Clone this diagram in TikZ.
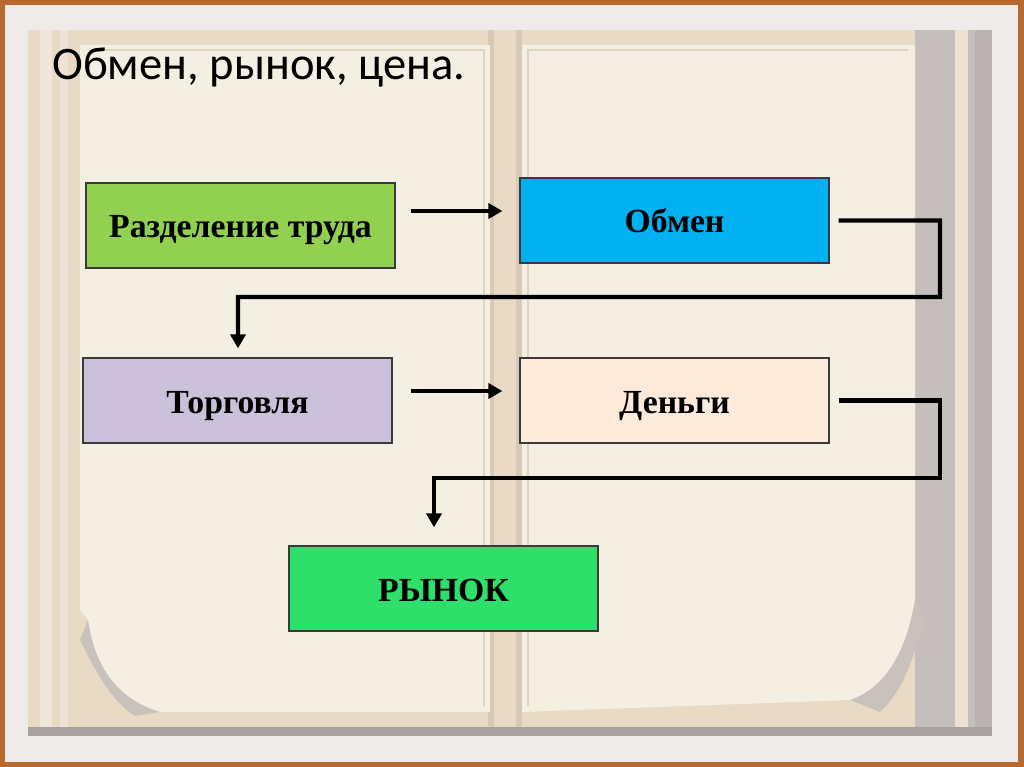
\documentclass[tikz,border=0pt]{standalone}
\usepackage{fontspec}
\setmainfont{Liberation Serif}
\newfontfamily\titlefont{Carlito}
\usetikzlibrary{arrows.meta,calc}
\definecolor{framebrown}{HTML}{B8692E}
\definecolor{band}{HTML}{EEEBEA}
\definecolor{bookbase}{HTML}{E9DAC6}
\definecolor{pagecol}{HTML}{F3EFE2}
\definecolor{pageline}{HTML}{DDD3BF}
\definecolor{shadowgray}{HTML}{C4BFBC}
\definecolor{curlgray}{HTML}{C9C2BC}
\definecolor{cgreen}{HTML}{92D050}
\definecolor{cblue}{HTML}{00B0F0}
\definecolor{clav}{HTML}{CCC1DA}
\definecolor{cpeach}{HTML}{FDEADB}
\definecolor{cmarket}{HTML}{2EE06A}
\definecolor{boxline}{HTML}{3A3A3A}
\tikzset{
  flowbox/.style={draw=boxline, line width=0.7pt, minimum width=6.18cm, minimum height=1.7cm,
    inner sep=0pt, text height=0.6cm, text depth=0.1cm,
    font=\fontsize{19.2}{22}\selectfont\bfseries, text=black},
  arr/.style={line width=2.4pt, -{Triangle[length=0.28cm,width=0.3cm]}},
}
\begin{document}
\begin{tikzpicture}[x=0.02cm,y=-0.02cm]
\useasboundingbox (0,0) rectangle (1024,767);
% frame
\fill[framebrown] (0,0) rectangle (1024,767);
\fill[band] (5,5) rectangle (1018,762);
\fill[bookbase] (28,30) rectangle (992,736);
% left margin stripes
\fill[white,opacity=0.35] (40,30) rectangle (52,736);
\fill[white,opacity=0.25] (60,30) rectangle (68,736);
% right shadow
\fill[shadowgray] (915,30) rectangle (992,736);
\fill[bookbase!80!white] (955,30) rectangle (968,736);
\fill[shadowgray!80!black,opacity=0.3] (975,30) rectangle (992,736);
% spine
\fill[bookbase!85!black,opacity=0.5] (488,30) rectangle (494,736);
\fill[bookbase!85!black,opacity=0.5] (516,30) rectangle (522,736);
% bottom gray edge
\fill[shadowgray!85!black] (28,727) rectangle (992,736);
% left page
\fill[pagecol] (80,45) -- (490,45) -- (490,712) -- (160,712)
  .. controls (120,700) and (95,670) .. (88,620) -- (80,610) -- cycle;
\fill[curlgray] (88,620) .. controls (95,670) and (120,700) .. (160,712) -- (135,716)
  .. controls (110,700) and (95,670) .. (80,640) -- cycle;
\draw[pageline,line width=0.8pt] (94,50) -- (484,50) -- (484,706);
% right page
\fill[pagecol] (522,45) -- (915,45) -- (915,600)
  .. controls (905,660) and (880,690) .. (850,700) -- (522,712) -- cycle;
\fill[curlgray] (915,600) .. controls (905,660) and (880,690) .. (850,700) -- (880,712)
  .. controls (905,690) and (915,650) .. (925,620) -- cycle;
\draw[pageline,line width=0.8pt] (528,706) -- (528,50) -- (908,50);
% title
\node[anchor=base west, inner sep=0pt, font=\titlefont\fontsize{26.5}{30}\selectfont] (title) at (52,80) {Обмен, рынок, цена.};
% boxes
\node[flowbox, fill=cgreen] (n1) at (240.5,225.5) {Разделение труда};
\node[flowbox, fill=cblue] (n2) at (674.5,220.5) {Обмен};
\node[flowbox, fill=clav] (n3) at (237.5,400.5) {Торговля};
\node[flowbox, fill=cpeach] (n4) at (674.5,400.5) {Деньги};
\node[flowbox, fill=cmarket] (n5) at (443.5,588.5) {РЫНОК};
% connectors
\coordinate (k1) at (940,297);
\coordinate (k2) at (940,478);
\coordinate (d1) at (238,297);
\coordinate (d2) at (434,478);
\draw[arr] ($(n1.east)+(15,-14.5)$) -- ($(n2.west)+(-17,-9.5)$);
\draw[arr] ($(n2.east)+(9,0)$) -| (k1) -- (d1) -- ($(n3.north)+(0.5,-9)$);
\draw[arr] ($(n3.east)+(18,-9.5)$) -- ($(n4.west)+(-17,-9.5)$);
\draw[arr] ($(n4.east)+(9,0)$) -| (k2) -- (d2) -- (d2 |- {$(n5.north)+(0,-18)$});
\end{tikzpicture}
\end{document}
